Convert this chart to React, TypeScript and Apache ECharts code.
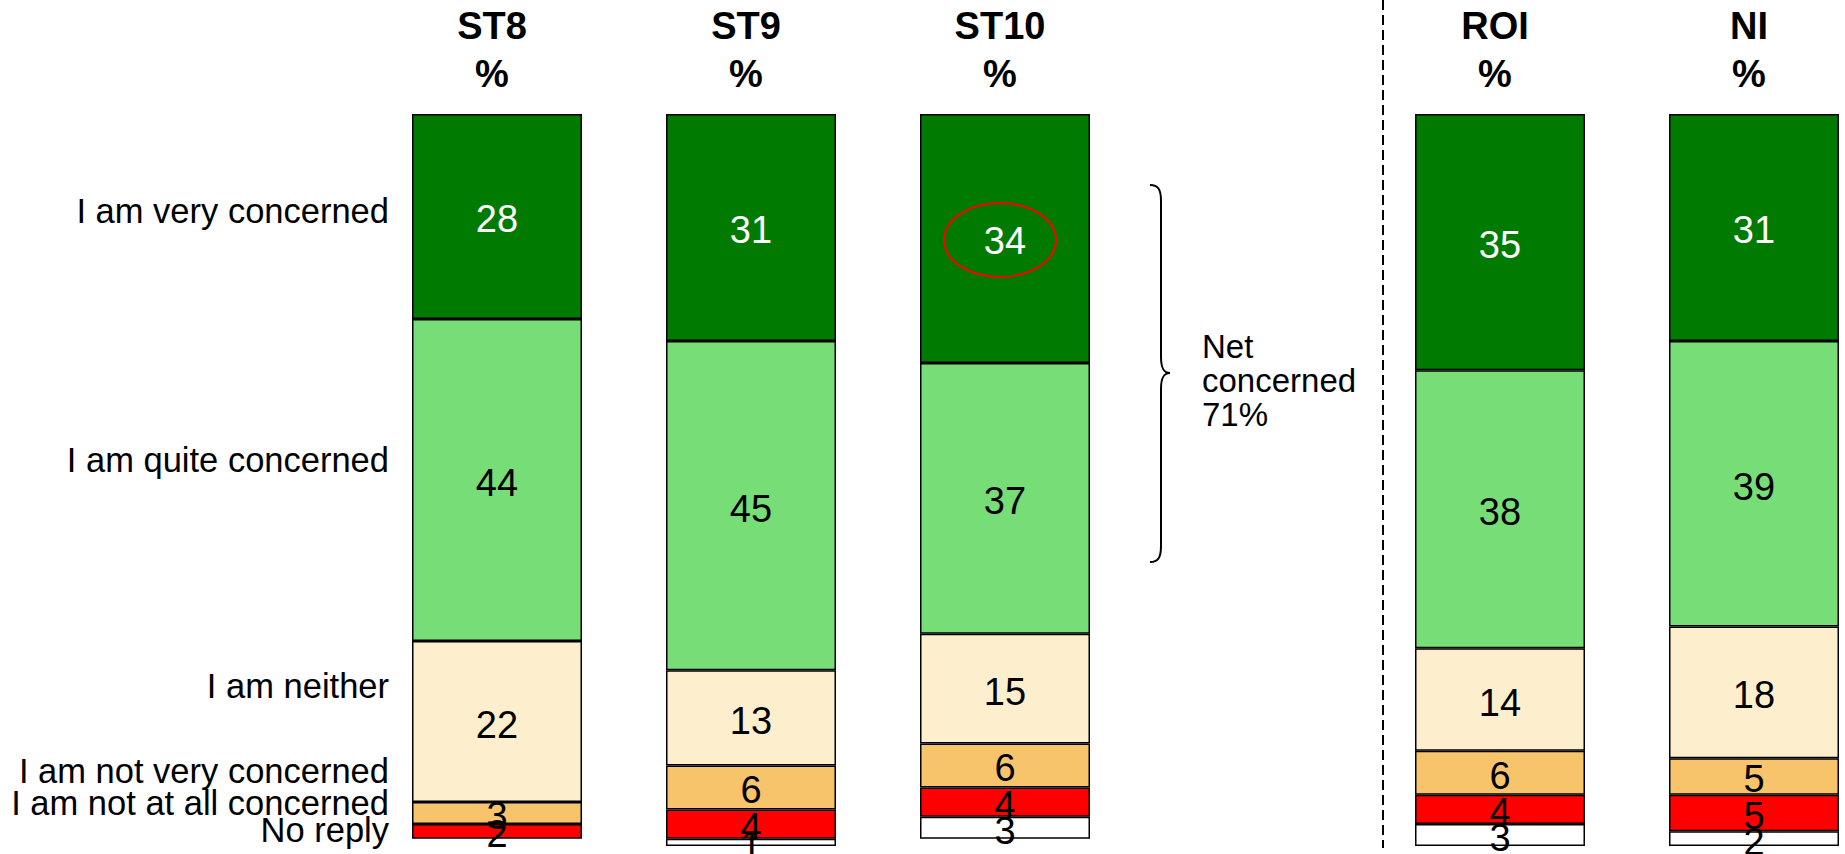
import React, { useEffect, useRef } from "react";
import * as echarts from "echarts";

// ---- data ----
const groupsLeft = ["ST8", "ST9", "ST10"];
const groupsRight = ["ROI", "NI"];
const segmentNames = [
  "I am very concerned",
  "I am quite concerned",
  "I am neither",
  "I am not very concerned",
  "I am not at all concerned",
  "No reply",
];
// values per segment for ST8, ST9, ST10, ROI, NI
const veryConcerned = [28, 31, 34, 35, 31];
const quiteConcerned = [44, 45, 37, 38, 39];
const neitherVals = [22, 13, 15, 14, 18];
const notVeryConcerned = [3, 6, 6, 6, 5];
const notAtAllConcerned = [2, 4, 4, 4, 5];
const noReply = [null, 1, 3, 3, 2];
const segmentValues = [
  veryConcerned,
  quiteConcerned,
  neitherVals,
  notVeryConcerned,
  notAtAllConcerned,
  noReply,
];
const segmentColors = ["#007A00", "#77DD77", "#FDEFCD", "#F8C46B", "#FF0000", "#FFFFFF"];
const labelColors = ["#FFFFFF", "#000000", "#000000", "#000000", "#000000", "#000000"];
const netConcernedText = "Net\nconcerned\n71%";

const FONT = "'Liberation Sans', Arial, Helvetica, sans-serif";

const braceD =
  "M0 0 C8 0 11 4 11 16 L11 172 C11 184 14 188 20 188 C14 188 11 192 11 204 L11 361 C11 373 8 377 0 377";
let braceRegistered = false;

export default function App() {
  const ref = useRef<HTMLDivElement>(null);

  useEffect(() => {
    if (!ref.current) return;
    if (!braceRegistered) {
      echarts.graphic.registerShape("brace", echarts.graphic.extendPath(braceD, {}) as any);
      braceRegistered = true;
    }
    const chart = echarts.init(ref.current, undefined, { renderer: "svg" });

    const makeSeries = (gridIdx: number, sliceStart: number, sliceEnd: number) =>
      segmentValues.map((vals, si) => ({
        type: "bar",
        name: segmentNames[si],
        xAxisIndex: gridIdx,
        yAxisIndex: gridIdx,
        stack: "s" + gridIdx,
        barWidth: 170,
        data: vals.slice(sliceStart, sliceEnd),
        itemStyle: {
          color: segmentColors[si],
          borderColor: "#000",
          borderWidth: 1.5,
        },
        label: {
          show: true,
          position: "inside",
          offset: [0, 3],
          color: labelColors[si],
          fontSize: 38,
          fontFamily: FONT,
        },
      }));

    const xAxisCommon = {
      type: "category",
      position: "top",
      axisLine: { show: false },
      axisTick: { show: false },
      axisLabel: {
        formatter: (v: string) => v + "\n%",
        fontSize: 38,
        fontWeight: "bold",
        fontFamily: FONT,
        color: "#000",
        lineHeight: 48,
        margin: 16,
        padding: [0, 10, 0, 0],
      },
    };
    const yAxisCommon = {
      type: "value",
      min: 0,
      max: 100,
      inverse: true,
      show: false,
      splitLine: { show: false },
    };

    const labelYs = [211, 460, 686, 771, 803, 830];

    chart.setOption({
      animation: false,
      grid: [
        { left: 370, top: 114, width: 762, height: 732 },
        { left: 1500, top: 114, width: 254, height: 732 },
      ],
      xAxis: [
        { ...xAxisCommon, gridIndex: 0, data: groupsLeft },
        { ...xAxisCommon, gridIndex: 1, data: groupsRight, boundaryGap: false },
      ],
      yAxis: [
        { ...yAxisCommon, gridIndex: 0 },
        { ...yAxisCommon, gridIndex: 1 },
      ],
      series: [...makeSeries(0, 0, 3), ...makeSeries(1, 3, 5)],
      graphic: [
        ...segmentNames.map((name, i) => ({
          type: "text",
          x: 389,
          y: labelYs[i],
          style: {
            text: name,
            fontSize: 34.5,
            fontFamily: FONT,
            fill: "#000",
            align: "right",
            verticalAlign: "middle",
          },
        })),
        {
          type: "line",
          shape: { x1: 1383, y1: 0, x2: 1383, y2: 848 },
          style: { stroke: "#000", lineWidth: 2, lineDash: [10, 5] },
        },
        {
          type: "brace",
          x: 1150,
          y: 185,
          style: { stroke: "#000", lineWidth: 2, fill: "none" },
        },
        {
          type: "text",
          x: 1202,
          y: 380,
          style: {
            text: netConcernedText,
            fontSize: 33,
            lineHeight: 34,
            fontFamily: FONT,
            fill: "#000",
            align: "left",
            verticalAlign: "middle",
          },
        },
        {
          type: "ellipse",
          shape: { cx: 1000, cy: 240, rx: 56, ry: 37 },
          style: { stroke: "#FF0000", lineWidth: 2, fill: "none" },
          z: 100,
        },
      ],
    });

    return () => chart.dispose();
  }, []);

  return (
    <div
      ref={ref}
      style={{ position: "absolute", left: 0, top: 0, width: 1845, height: 854 }}
    />
  );
}
